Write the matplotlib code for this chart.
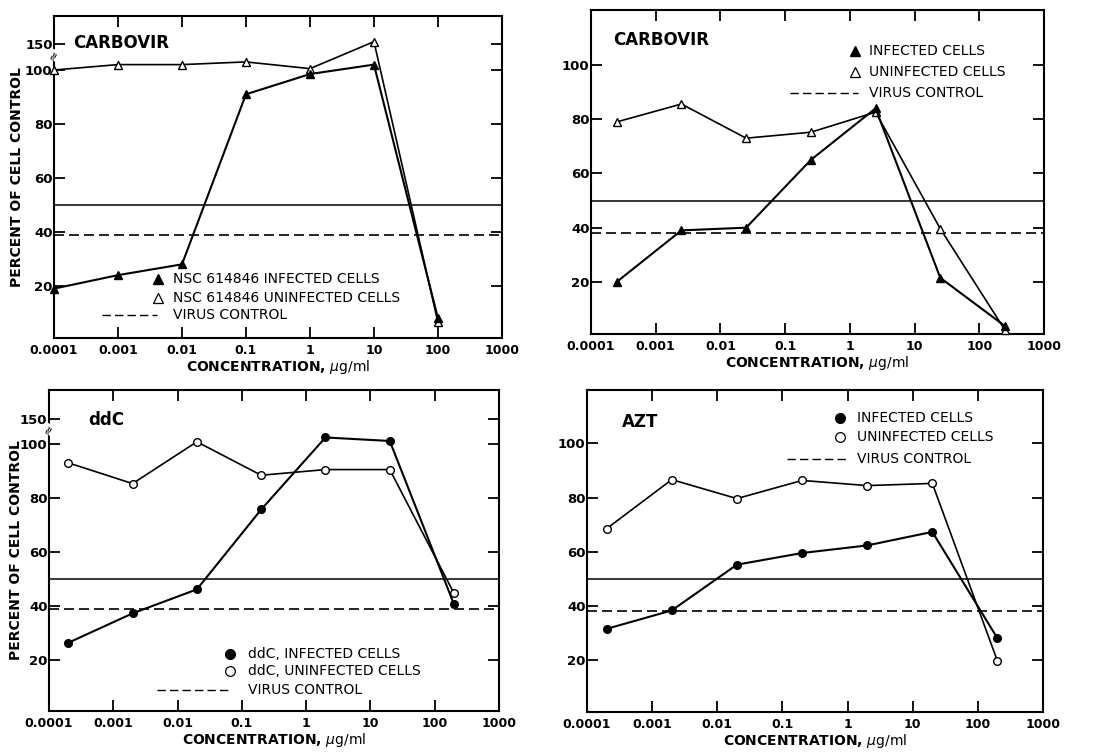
import matplotlib
matplotlib.use("Agg")
import matplotlib.pyplot as plt
import matplotlib.transforms as mtransforms

plt.rcParams["font.family"] = ["DejaVu Sans"]
plt.rcParams["mathtext.fontset"] = "dejavusans"

# x positions (ug/ml) and percent of cell control
carbovir_a_conc = [1e-4, 1e-3, 1e-2, 1e-1, 1, 10, 100]
carbovir_a_infected = [19, 24, 28, 91, 98.5, 102, 8]
carbovir_a_uninfected = [100, 102, 102, 103, 100.5, 152, 6.5]

carbovir_b_conc = [2.5e-4, 2.5e-3, 2.5e-2, 0.25, 2.5, 25, 250]
carbovir_b_infected = [20, 39, 40, 65, 84, 21.5, 3.7]
carbovir_b_uninfected = [79, 85.6, 73, 75.2, 82.6, 39.6, 2.2]

ddc_conc = [2e-4, 2e-3, 2e-2, 0.2, 2, 20, 200]
ddc_infected = [26.4, 37.3, 46.2, 75.8, 102.5, 101.2, 40.6]
ddc_uninfected = [93.1, 85.4, 100.9, 88.5, 90.6, 90.6, 44.7]

azt_conc = [2e-4, 2e-3, 2e-2, 0.2, 2, 20, 200]
azt_infected = [31.5, 38.3, 55.2, 59.5, 62.3, 67.3, 28]
azt_uninfected = [68.5, 86.6, 79.6, 86.3, 84.4, 85.2, 19.6]

virus_control = [39, 38, 39, 38]
fifty_line = 50

x_ticks = [1e-4, 1e-3, 1e-2, 1e-1, 1, 10, 100, 1000]
x_ticklabels = ["0.0001", "0.001", "0.01", "0.1", "1", "10", "100", "1000"]


def brk(v):
    # broken y axis: 150 is drawn just above 100
    return v if v <= 104 else 109.5 + (v - 150) * 0.5


def draw_panel(ax, conc, inf, uninf, marker, title, vc, ylim, has_150, ylab_x, legend):
    ax.set_xscale("log")
    ax.set_xlim(1e-4, 1e3)
    ax.set_ylim(*ylim)
    ax.axhline(fifty_line, color="black", lw=1.1)
    ax.axhline(vc, color="black", lw=1.2, ls=(0, (6, 3)))

    ax.plot(conc, [brk(v) for v in uninf], color="black", lw=1.2, marker=marker,
            ms=5.5, mfc="white", mec="black", mew=1.0, clip_on=False, zorder=3)
    ax.plot(conc, [brk(v) for v in inf], color="black", lw=1.5, marker=marker,
            ms=5.5, mfc="black", mec="black", clip_on=False, zorder=4)

    yt = [20, 40, 60, 80, 100]
    ytl = ["20", "40", "60", "80", "100"]
    if has_150:
        yt.append(brk(150))
        ytl.append("150")
        tr = mtransforms.blended_transform_factory(ax.transAxes, ax.transData)
        ax.text(0, brk(150) - 4, "≈", transform=tr, ha="center", va="center",
                fontsize=9, rotation=60, clip_on=False, zorder=5,
                bbox=dict(fc="white", ec="none", pad=0))
    ax.set_yticks(yt)
    ax.set_yticklabels(ytl)
    ax.set_xticks(x_ticks)
    ax.set_xticklabels(x_ticklabels)
    ax.minorticks_off()
    ax.tick_params(direction="in", length=8, width=1.3, top=True, right=True,
                   labelsize=9, pad=4)
    ax.tick_params(axis="y", pad=1, labelsize=9.5)
    for lab in ax.get_xticklabels() + ax.get_yticklabels():
        lab.set_fontweight("bold")
    for sp in ax.spines.values():
        sp.set_linewidth(1.5)

    ax.set_xlabel(r"CONCENTRATION, $\mu\mathrm{g/ml}$", fontsize=10, fontweight="bold", labelpad=1)
    if ylab_x is not None:
        ax.set_ylabel("PERCENT OF CELL CONTROL", fontsize=10, fontweight="bold")
        ax.yaxis.set_label_coords(ylab_x, 0.5)

    ax.text(title[1], title[2], title[0], transform=ax.transAxes, fontsize=12,
            fontweight="bold", ha="left", va="center")

    # hand-placed key, as in the original
    mx, tx, rows, dash, labels = legend
    ax.plot([mx], [rows[0]], marker=marker, ms=7, color="black", transform=ax.transAxes,
            clip_on=False)
    ax.plot([mx], [rows[1]], marker=marker, ms=7, mfc="white", mec="black", mew=0.9,
            transform=ax.transAxes, clip_on=False)
    ax.plot(dash, [rows[2], rows[2]], color="black", lw=1.0, ls=(0, (6, 3)),
            transform=ax.transAxes)
    for r, lab in zip(rows, labels):
        ax.text(tx, r, lab, transform=ax.transAxes, fontsize=10, ha="left", va="center")


fig = plt.figure(figsize=(10.95, 7.52), dpi=100)
ax1 = fig.add_axes([0.0493, 0.5505, 0.4091, 0.4282])
ax2 = fig.add_axes([0.5397, 0.5559, 0.4137, 0.4309])
ax3 = fig.add_axes([0.0447, 0.0545, 0.4110, 0.4269])
ax4 = fig.add_axes([0.5361, 0.0532, 0.4164, 0.4282])

draw_panel(ax1, carbovir_a_conc, carbovir_a_infected, carbovir_a_uninfected, "^",
           ("CARBOVIR", 0.042, 0.916), virus_control[0], (0.7, 120), True, -0.066,
           (0.232, 0.265, [0.183, 0.124, 0.071], [0.107, 0.23],
            ["NSC 614846 INFECTED CELLS", "NSC 614846 UNINFECTED CELLS", "VIRUS CONTROL"]))
draw_panel(ax2, carbovir_b_conc, carbovir_b_infected, carbovir_b_uninfected, "^",
           ("CARBOVIR", 0.049, 0.907), virus_control[1], (0.8, 120.3), False, None,
           (0.583, 0.614, [0.873, 0.809, 0.744], [0.439, 0.589],
            ["INFECTED CELLS", "UNINFECTED CELLS", "VIRUS CONTROL"]))
draw_panel(ax3, ddc_conc, ddc_infected, ddc_uninfected, "o",
           ("ddC", 0.087, 0.907), virus_control[2], (1.1, 120.1), True, -0.058,
           (0.402, 0.442, [0.178, 0.125, 0.065], [0.24, 0.407],
            ["ddC, INFECTED CELLS", "ddC, UNINFECTED CELLS", "VIRUS CONTROL"]))
draw_panel(ax4, azt_conc, azt_infected, azt_uninfected, "o",
           ("AZT", 0.077, 0.90), virus_control[3], (0.8, 119.7), False, None,
           (0.555, 0.592, [0.913, 0.854, 0.786], [0.439, 0.57],
            ["INFECTED CELLS", "UNINFECTED CELLS", "VIRUS CONTROL"]))

fig.savefig("out.png", dpi=100)
